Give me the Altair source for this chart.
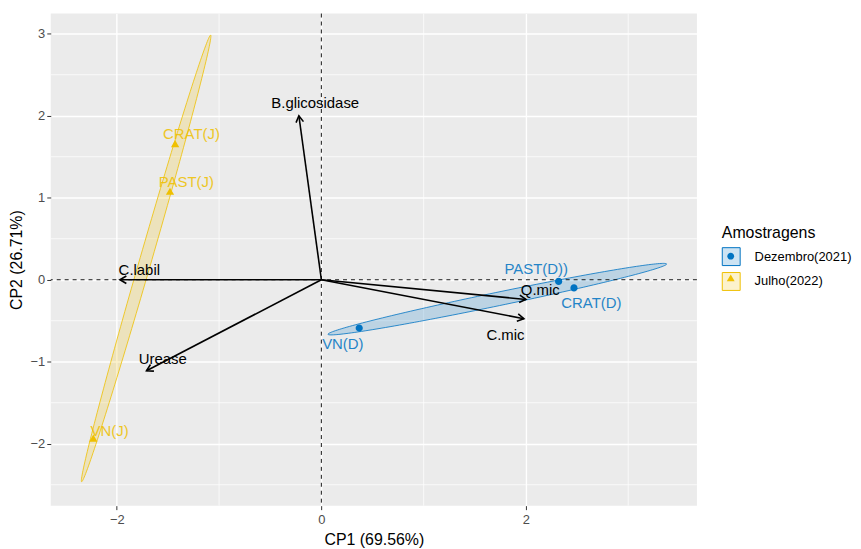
import numpy as np
import pandas as pd
import altair as alt

# ---------------- data ----------------
ind_names = ["CRAT(J)", "PAST(J)", "VN(J)", "PAST(D))", "CRAT(D)", "VN(D)"]
ind_group = ["Julho(2022)", "Julho(2022)", "Julho(2022)",
             "Dezembro(2021)", "Dezembro(2021)", "Dezembro(2021)"]
ind_x = [-1.43, -1.48, -2.23, 2.32, 2.47, 0.37]
ind_y = [1.65, 1.07, -1.94, -0.02, -0.10, -0.59]
ind_label_x = [-1.27, -1.32, -2.07, 2.10, 2.64, 0.21]
ind_label_y = [1.78, 1.19, -1.85, 0.13, -0.29, -0.79]

var_names = ["B.glicosidase", "C.labil", "Urease", "Q.mic", "C.mic"]
var_x = [-0.22, -1.97, -1.71, 2.00, 1.98]
var_y = [2.00, 0.00, -1.11, -0.24, -0.475]
var_label_x = [-0.06, -1.78, -1.55, 2.14, 1.80]
var_label_y = [2.16, 0.12, -0.97, -0.12, -0.67]

groups = ["Dezembro(2021)", "Julho(2022)"]
group_colors = ["#0073C2", "#EFC000"]
group_fills = ["rgba(0,115,194,0.2)", "rgba(239,192,0,0.2)"]

x_ticks = [-2, 0, 2]
y_ticks = [-2, -1, 0, 1, 2, 3]
x_minor = [-1, 1, 3]
y_minor = [-2.5, -1.5, -0.5, 0.5, 1.5, 2.5]
x_dom = [-2.646, 3.672]
y_dom = [-2.755, 3.246]

W, H = 650, 495
FONT = "Liberation Sans"

# ---------------- derived tables ----------------
ind = pd.DataFrame({"name": ind_names, "Amostragem": ind_group, "x": ind_x, "y": ind_y,
                    "lx": ind_label_x, "ly": ind_label_y})
ind["tcol"] = ind["Amostragem"].map(dict(zip(groups, group_colors)))

# confidence ellipses around group means (95%, chi2 with 2 df)
chi2 = 5.991
rows = []
t = np.linspace(0, 2 * np.pi, 181)
for g in groups:
    sub = ind[ind["Amostragem"] == g]
    pts = sub[["x", "y"]].to_numpy()
    m = pts.mean(axis=0)
    cov = np.cov(pts.T)
    lam, vec = np.linalg.eigh(cov)
    lam = np.clip(lam, 0, None)
    rad = np.sqrt(chi2 * lam / len(pts))
    circ = np.vstack([np.cos(t), np.sin(t)])
    e = (vec @ (rad[:, None] * circ)).T + m
    for i, (ex, ey) in enumerate(e):
        rows.append({"grupo": g, "i": i, "x": ex, "y": ey})
ell = pd.DataFrame(rows)

var = pd.DataFrame({"name": var_names, "x": var_x, "y": var_y,
                    "lx": var_label_x, "ly": var_label_y})
var["x0"] = 0.0
var["y0"] = 0.0
kx = W / (x_dom[1] - x_dom[0])
ky = H / (y_dom[1] - y_dom[0])
var["ang"] = (np.degrees(np.arctan2(var["x"] * kx, var["y"] * ky)) + 360) % 360

xs = alt.Scale(domain=x_dom, nice=False, zero=False)
ys = alt.Scale(domain=y_dom, nice=False, zero=False)

xaxis = alt.Axis(values=x_ticks, format="d", title="CP1 (69.56%)", grid=True, gridColor="white",
                 gridWidth=1.4, domain=False, tickColor="#333333", tickSize=4,
                 labelColor="#4D4D4D", labelFontSize=13, labelFont=FONT, labelPadding=4,
                 titleFont=FONT, titleFontSize=16, titleFontWeight="normal",
                 titleColor="black", titlePadding=5)
yaxis = alt.Axis(values=y_ticks, format="d", title="CP2 (26.71%)", grid=True, gridColor="white",
                 gridWidth=1.4, domain=False, tickColor="#333333", tickSize=4,
                 labelColor="#4D4D4D", labelFontSize=13, labelFont=FONT, labelPadding=2,
                 titleFont=FONT, titleFontSize=16, titleFontWeight="normal",
                 titleColor="black", titlePadding=6)

LX, LY = 675, 213
leg_common = dict(orient="none", legendX=LX, legendY=LY,
                  titleFont=FONT, titleFontSize=16, titleFontWeight="normal",
                  titlePadding=6, labelFont=FONT, labelFontSize=13, labelOffset=14,
                  symbolSize=324)

leg1 = alt.Legend(title="Amostragens", symbolType="square", symbolStrokeWidth=1,
                  titleColor="black", labelColor="black", rowPadding=2, **leg_common)
# second legend only adds the point glyphs inside the keys of the first one
leg2 = alt.Legend(title=" ", titleColor="transparent", labelColor="transparent",
                  labelExpr="' '", symbolStrokeWidth=0, rowPadding=6.5, **leg_common)

circle_path = "M -0.38 0 A 0.38 0.38 0 1 0 0.38 0 A 0.38 0.38 0 1 0 -0.38 0 Z"
tri_path = "M 0 -0.46 L 0.44 0.3 L -0.44 0.3 Z"

# minor grid
minor_x = alt.Chart(pd.DataFrame({"v": x_minor})).mark_rule(color="white", strokeWidth=0.7).encode(
    x=alt.X("v:Q", scale=xs, axis=xaxis))
minor_y = alt.Chart(pd.DataFrame({"v": y_minor})).mark_rule(color="white", strokeWidth=0.7).encode(
    y=alt.Y("v:Q", scale=ys, axis=yaxis))

ellipses = alt.Chart(ell).mark_line(interpolate="linear-closed", strokeWidth=0.8).encode(
    x=alt.X("x:Q", scale=xs),
    y=alt.Y("y:Q", scale=ys),
    order=alt.Order("i:Q"),
    fill=alt.Fill("grupo:N", scale=alt.Scale(domain=groups, range=group_fills), legend=leg1),
    stroke=alt.Stroke("grupo:N", scale=alt.Scale(domain=groups, range=group_colors), legend=leg1),
)

zero_df = pd.DataFrame({"z": [0.0]})
hline = alt.Chart(zero_df).mark_rule(color="black", strokeDash=[4, 4], strokeWidth=0.9).encode(
    y=alt.Y("z:Q", scale=ys))
vline = alt.Chart(zero_df).mark_rule(color="black", strokeDash=[4, 4], strokeWidth=0.9).encode(
    x=alt.X("z:Q", scale=xs))

arrows = alt.Chart(var).mark_rule(color="black", strokeWidth=1.6).encode(
    x=alt.X("x0:Q", scale=xs), y=alt.Y("y0:Q", scale=ys),
    x2="x:Q", y2="y:Q")
heads = alt.Chart(var).mark_point(shape="M -0.5 0.866 L 0 0 L 0.5 0.866", filled=False,
                                  color="black", strokeWidth=1.6, size=225, opacity=1,
                                  strokeJoin="miter").encode(
    x=alt.X("x:Q", scale=xs), y=alt.Y("y:Q", scale=ys),
    angle=alt.Angle("ang:Q", scale=None))
var_text = alt.Chart(var).mark_text(font=FONT, fontSize=15, color="black").encode(
    x=alt.X("lx:Q", scale=xs), y=alt.Y("ly:Q", scale=ys), text="name:N")

# point scales keep a data-derived domain so their legend stays separate from the ellipse legend
points = alt.Chart(ind).mark_point(filled=True, opacity=1, size=361).encode(
    x=alt.X("x:Q", scale=xs), y=alt.Y("y:Q", scale=ys),
    color=alt.Color("Amostragem:N", scale=alt.Scale(range=group_colors), legend=leg2),
    shape=alt.Shape("Amostragem:N", scale=alt.Scale(range=[circle_path, tri_path]),
                    legend=leg2),
)
ind_text = alt.Chart(ind).mark_text(font=FONT, fontSize=15, opacity=0.85).encode(
    x=alt.X("lx:Q", scale=xs), y=alt.Y("ly:Q", scale=ys), text="name:N",
    color=alt.Color("tcol:N", scale=None))

chart = alt.layer(minor_x, minor_y, ellipses, hline, vline, arrows, heads, var_text,
                  points, ind_text).properties(
    width=W, height=H,
    autosize=alt.AutoSizeParams(type="none"),
    padding={"left": 43, "top": 4, "right": 157, "bottom": 41},
    background="white",
).configure_view(fill="#EBEBEB", stroke=None)

chart.save("out.html", embed_options={"renderer": "svg", "actions": False})
